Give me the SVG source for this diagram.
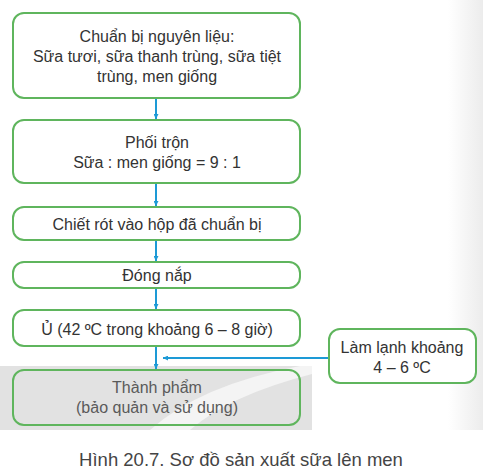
<svg xmlns="http://www.w3.org/2000/svg" width="483" height="476" viewBox="0 0 483 476">
<defs>
<style>
.box{fill:#fff;stroke:#5fb55d;stroke-width:2}
.t{font-family:"Liberation Sans",Arial,sans-serif;font-size:16px;fill:#333;text-anchor:middle}
.g{fill:#5a5a5a}
.c{stroke:#1d9ad6;stroke-width:2;fill:none}
</style>
<marker id="ah" viewBox="0 0 10 10" refX="10" refY="5" markerWidth="5" markerHeight="5" orient="auto" markerUnits="userSpaceOnUse">
<path d="M0,0 L10,5 L0,10 Z" fill="#1d9ad6"/>
</marker>
<linearGradient id="rg" x1="0" x2="1" y1="0" y2="0">
<stop offset="0" stop-color="#fff"/>
<stop offset="1" stop-color="#ececec"/>
</linearGradient>
</defs>
<rect width="483" height="476" fill="#fff"/>
<rect x="448" y="0" width="35" height="430" fill="url(#rg)"/>
<g id="watermark">
<rect x="0" y="366" width="312" height="64" fill="#e2e2e2"/>
<path d="M150,430 Q200,385 300,366 L312,366 L312,374 Q230,395 190,430 Z" fill="#f4f4f4"/>
</g>
<g id="connectors">
<line class="c" x1="156" y1="99" x2="156" y2="119" marker-end="url(#ah)"/>
<line class="c" x1="156" y1="184" x2="156" y2="206" marker-end="url(#ah)"/>
<line class="c" x1="156" y1="241" x2="156" y2="261" marker-end="url(#ah)"/>
<line class="c" x1="156" y1="289" x2="156" y2="309" marker-end="url(#ah)"/>
<line class="c" x1="156" y1="347" x2="156" y2="369" marker-end="url(#ah)"/>
<line class="c" x1="329" y1="358" x2="163" y2="358" marker-end="url(#ah)"/>
</g>
<g id="n1">
<rect class="box" x="13" y="13" width="287" height="85" rx="11"/>
<text class="t" x="157" y="42">Chuẩn bị nguyên liệu:</text>
<text class="t" x="157" y="62">Sữa tươi, sữa thanh trùng, sữa tiệt</text>
<text class="t" x="157" y="82">trùng, men giống</text>
</g>
<g id="n2">
<rect class="box" x="13" y="120" width="287" height="63" rx="11"/>
<text class="t" x="157" y="148">Phối trộn</text>
<text class="t" x="157" y="168">Sữa : men giống = 9 : 1</text>
</g>
<g id="n3">
<rect class="box" x="13" y="207" width="287" height="33" rx="11"/>
<text class="t" x="157" y="230">Chiết rót vào hộp đã chuẩn bị</text>
</g>
<g id="n4">
<rect class="box" x="13" y="262" width="287" height="26" rx="11"/>
<text class="t" x="157" y="281">Đóng nắp</text>
</g>
<g id="n5">
<rect class="box" x="13" y="310" width="287" height="36" rx="11"/>
<text class="t" x="157" y="335">Ủ (42 ºC trong khoảng 6 – 8 giờ)</text>
</g>
<g id="n6">
<rect class="box" x="13" y="370" width="287" height="55" rx="11" style="fill:none"/>
<text class="t g" x="157" y="393">Thành phẩm</text>
<text class="t g" x="157" y="413">(bảo quản và sử dụng)</text>
</g>
<g id="n7">
<rect class="box" x="329" y="329" width="147" height="54" rx="11"/>
<text class="t" x="402" y="353">Làm lạnh khoảng</text>
<text class="t" x="402" y="373">4 – 6 ºC</text>
</g>
<text class="t" x="241" y="466" style="font-size:18.5px;fill:#444">Hình 20.7. Sơ đồ sản xuất sữa lên men</text>
</svg>
